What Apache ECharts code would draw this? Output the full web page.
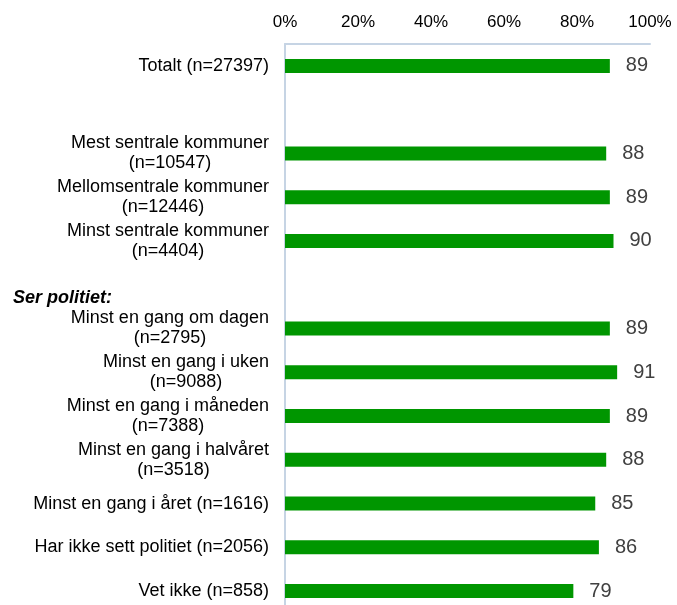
<!DOCTYPE html>
<html>
<head>
<meta charset="utf-8">
<script src="https://cdn.jsdelivr.net/npm/echarts@6/dist/echarts.min.js"></script>
<style>
  html, body { margin: 0; padding: 0; background: #fff; overflow: hidden; }
  #chart { width: 677px; height: 613px; }
</style>
</head>
<body>
<div id="chart"></div>
<script>
// rader ovenfra og ned, tomme navn gir mellomrom
const categories = [
  'Totalt (n=27397)',
  '',
  'Mest sentrale kommuner\n(n=10547)',
  'Mellomsentrale kommuner\n(n=12446)',
  'Minst sentrale kommuner\n(n=4404)',
  'Ser politiet:',
  'Minst en gang om dagen\n(n=2795)',
  'Minst en gang i uken\n(n=9088)',
  'Minst en gang i måneden\n(n=7388)',
  'Minst en gang i halvåret\n(n=3518)',
  'Minst en gang i året (n=1616)',
  'Har ikke sett politiet (n=2056)',
  'Vet ikke (n=858)'
]
const values = [89, '-', 88, 89, 90, '-', 89, 91, 89, 88, 85, 86, 79]
const tickValues = [0, 20, 40, 60, 80, 100]

const axisColor = '#c6d4e4'
const font = 'Liberation Sans, Arial, sans-serif'

const chart = echarts.init(document.getElementById('chart'))

const option = {
  animation: false,
  // diagrammet går litt under nederkanten, som i originalen
  grid: { left: 285, right: 27, top: 44, bottom: 0, containLabel: false, outerBoundsMode: 'none' },
  xAxis: {
    type: 'value',
    position: 'top',
    min: tickValues[0],
    max: tickValues[tickValues.length - 1],
    interval: 20,
    axisLine: { show: true, lineStyle: { color: axisColor, width: 2 } },
    axisTick: { show: false },
    splitLine: { show: false },
    axisLabel: {
      margin: 13,
      formatter: '{value}%',
      color: '#000',
      fontSize: 17,
      fontFamily: font
    }
  },
  yAxis: {
    type: 'category',
    inverse: true,
    data: categories,
    axisLine: { show: true, lineStyle: { color: axisColor, width: 2 } },
    axisTick: { show: false },
    axisLabel: {
      margin: 16,
      interval: 0,
      color: '#000',
      fontSize: 18,
      fontFamily: font,
      formatter(name) {
        if (name === 'Ser politiet:') return '{h|' + name + '}'
        return name.split('\n').map(s => '{c|' + s + '}').join('\n')
      },
      rich: {
        c: { align: 'center', fontSize: 18, lineHeight: 20, color: '#000', fontFamily: font },
        h: {
          align: 'left', width: 256, fontSize: 18, fontStyle: 'italic', fontWeight: 'bold',
          color: '#000', fontFamily: font, padding: [26, 0, 0, 0]
        }
      }
    }
  },
  series: [
    {
      type: 'bar',
      data: values,
      barWidth: 14,
      itemStyle: { color: '#009600' },
      label: {
        show: true,
        position: 'right',
        distance: 16,
        color: '#404040',
        fontSize: 20,
        fontFamily: font
      }
    }
  ]
}

chart.setOption(option)
</script>
</body>
</html>
